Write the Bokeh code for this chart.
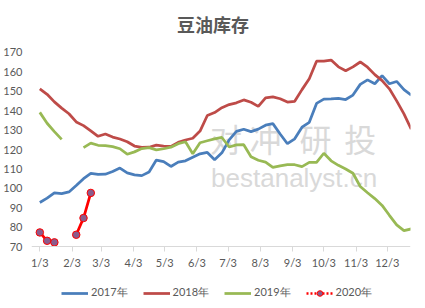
import numpy as np
from bokeh.plotting import figure
from bokeh.models import FixedTicker, Legend, LegendItem, Label
from bokeh.embed import file_html
from bokeh.resources import INLINE

nan = float("nan")

title_text = "豆油库存"

# Axis ticks (days after 1/3) and labels
tick_days = [0, 31, 59, 90, 120, 151, 181, 212, 243, 273, 304, 334]
tick_labels = ["1/3", "2/3", "3/3", "4/3", "5/3", "6/3", "7/3", "8/3", "9/3", "10/3", "11/3", "12/3"]
y_ticks = [70, 80, 90, 100, 110, 120, 130, 140, 150, 160, 170]

series_names = ["2017年", "2018年", "2019年", "2020年"]

# Weekly values (week 0 = 1/3)
s2017 = [92.8, 95.0, 97.7, 97.3, 98.2, 101.5, 105.0, 107.7, 107.2, 107.3,
         108.7, 110.5, 108.0, 107.0, 106.6, 108.5, 114.6, 113.8, 111.3, 113.5,
         114.2, 116.0, 117.8, 118.5, 114.8, 118.3, 125.0, 129.3, 130.4, 129.2,
         130.5, 132.5, 133.3, 128.0, 123.0, 125.5, 131.5, 134.0, 143.7, 145.9,
         146.0, 146.3, 145.7, 148.0, 153.5, 155.8, 153.8, 158.0, 153.8, 155.0,
         150.8, 148.0]
s2018 = [151.2, 148.4, 144.5, 141.3, 138.4, 134.2, 132.3, 129.6, 126.8, 128.0,
         126.4, 125.4, 124.0, 121.8, 121.1, 121.2, 122.3, 121.8, 121.6, 123.7,
         124.9, 125.8, 129.5, 137.5, 139.0, 141.5, 143.1, 144.0, 145.5, 144.3,
         142.2, 146.6, 147.1, 146.1, 144.4, 144.8, 150.8, 156.4, 165.4, 165.4,
         166.0, 162.5, 160.5, 162.5, 165.0, 162.3, 158.5, 155.4, 151.2, 145.0,
         138.3, 130.5]
s2019 = [139.1, 133.5, 129.2, 125.2, nan, nan, 121.0, 123.3, 122.2, 122.0,
         121.5, 120.4, 117.6, 118.8, 120.5, 121.0, 119.8, 120.4, 121.2, 123.0,
         124.0, 117.8, 123.5, 124.5, 125.5, 126.2, 121.3, 122.4, 122.5, 116.3,
         114.5, 113.5, 110.8, 111.6, 112.2, 112.2, 111.2, 113.4, 113.4, 118.1,
         114.2, 111.9, 110.0, 107.8, 101.0, 97.8, 94.8, 91.3, 86.2, 81.3,
         78.3, 79.2]
s2020 = [77.4, 73.1, 72.3, nan, nan, 76.2, 84.8, 97.7]

days = [7 * i for i in range(len(s2017))]
days2020 = [7 * i for i in range(len(s2020))]

colors = ["#4A7EBB", "#BE4B48", "#98B954", "#FF0000"]
text_color = "#595959"

# frame spans the full canvas height; axis is pinned at value 70
p = figure(width=425, height=308, x_range=(-8, 356.3), y_range=(38.3, 196.6),
           output_backend="svg", toolbar_location=None,
           min_border_left=30, min_border_right=15, min_border_top=0, min_border_bottom=0)
p.title.text = ""

p.xgrid.visible = False
p.ygrid.visible = False
p.outline_line_color = None
p.background_fill_color = "white"
p.border_fill_color = "white"

p.add_layout(Label(x=166.5, y=184.3, text=title_text, text_align="center", text_baseline="middle",
                   text_font="Noto Sans CJK SC", text_font_size="18px", text_font_style="bold",
                   text_color=text_color))

# watermark
wm_color = "#D9D9D9"
for ch, xd in zip(["对", "冲", "研", "投"], [179, 217, 265, 308]):
    p.add_layout(Label(x=xd, y=126.1, text=ch, text_align="center", text_baseline="middle",
                       text_font="Noto Sans CJK SC", text_font_size="32px",
                       text_color=wm_color, level="underlay"))
p.add_layout(Label(x=164.6, y=105.5, text="bestanalyst.cn", text_align="left",
                   text_baseline="alphabetic", text_font="Liberation Sans",
                   text_font_size="26px", text_color=wm_color, level="underlay"))

r17 = p.line(days, s2017, line_color=colors[0], line_width=2.75)
r18 = p.line(days, s2018, line_color=colors[1], line_width=2.75)
r19 = p.line(days, s2019, line_color=colors[2], line_width=2.75)
r20 = p.line(days2020, s2020, line_color=colors[3], line_width=2.75)
r20m = p.scatter(days2020, s2020, size=7.5, fill_color="#8A5C8C", line_color=colors[3], line_width=1)
r20leg = p.line([nan], [nan], line_color=colors[3], line_width=2.5, line_dash="2 2")

xa = p.xaxis[0]
xa.fixed_location = 70
xa.ticker = FixedTicker(ticks=tick_days)
xa.major_label_overrides = {d: l for d, l in zip(tick_days, tick_labels)}
xa.axis_line_color = "#D9D9D9"
xa.major_tick_line_color = "#D9D9D9"
xa.major_tick_out = 5
xa.major_tick_in = 0
xa.minor_tick_line_color = None
xa.major_label_text_font = "Lato"
xa.major_label_text_font_size = "11px"
xa.major_label_text_color = text_color
xa.major_label_standoff = 4

ya = p.yaxis[0]
ya.ticker = FixedTicker(ticks=y_ticks)
ya.axis_line_color = None
ya.major_tick_line_color = None
ya.minor_tick_line_color = None
ya.major_label_text_font = "Lato"
ya.major_label_text_font_size = "11px"
ya.major_label_text_color = text_color
ya.major_label_standoff = 3

legend = Legend(items=[
    LegendItem(label=series_names[0], renderers=[r17]),
    LegendItem(label=series_names[1], renderers=[r18]),
    LegendItem(label=series_names[2], renderers=[r19]),
    LegendItem(label=series_names[3], renderers=[r20leg, r20m]),
], orientation="horizontal", location=(30, 8))
legend.border_line_color = None
legend.background_fill_alpha = 0
legend.label_text_font = "Lato"
legend.label_text_font_size = "11px"
legend.label_text_color = text_color
legend.glyph_width = 27
legend.glyph_height = 14
legend.label_standoff = 3
legend.spacing = 15
legend.padding = 3
legend.margin = 0
p.add_layout(legend, "center")

open("out.html", "w").write(file_html(p, INLINE))
